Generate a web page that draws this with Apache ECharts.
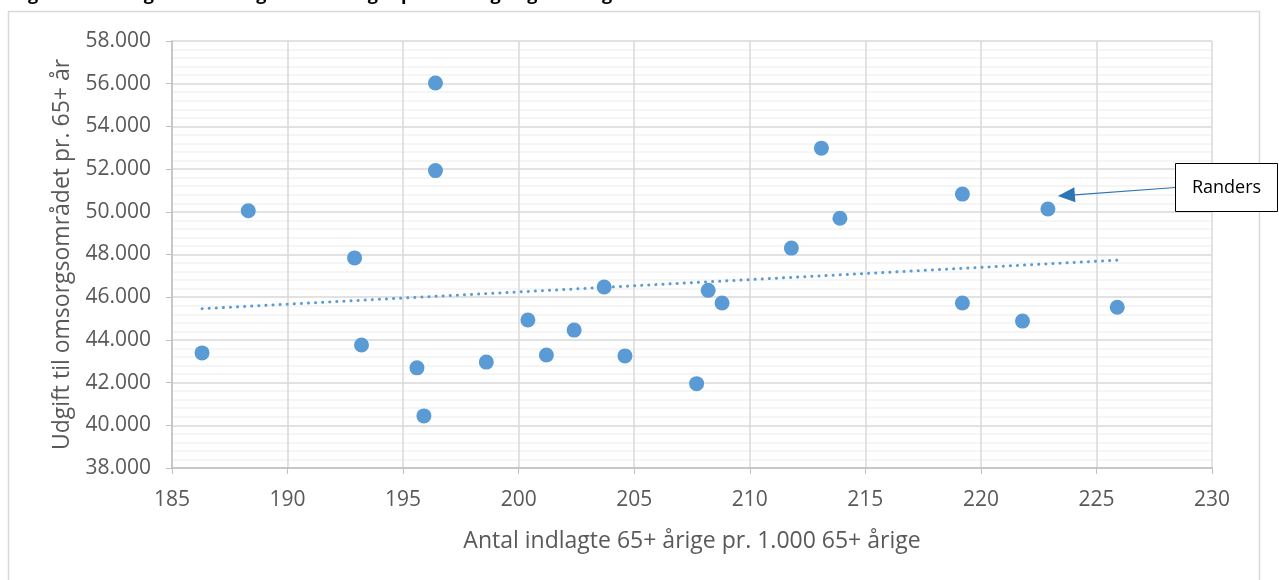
<!DOCTYPE html>
<html>
<head>
<meta charset="utf-8">
<script src="https://cdn.jsdelivr.net/npm/echarts@6/dist/echarts.min.js"></script>
<style>
  html, body { margin: 0; padding: 0; background: #fff; }
  #main { width: 1279px; height: 580px; }
</style>
</head>
<body>
<div id="main"></div>
<script>
// indlagte pr. 1.000 65+ årige
const indlagte = [186.3, 188.3, 192.9, 193.2, 195.6, 195.9, 196.4, 196.4, 198.6, 200.4, 201.2, 202.4,
    203.7, 204.6, 207.7, 208.2, 208.8, 211.8, 213.1, 213.9, 219.2, 219.2, 221.8, 222.9, 225.9]
// udgift pr. 65+ årig
const udgift = [43390, 50050, 47840, 43760, 42690, 40440, 56030, 51930, 42960, 44930, 43290, 44460,
    46480, 43250, 41950, 46320, 45730, 48300, 52980, 49700, 50830, 45730, 44880, 50130, 45530]
const xTicks = [185, 190, 195, 200, 205, 210, 215, 220, 225, 230]
const yTicks = [38000, 40000, 42000, 44000, 46000, 48000, 50000, 52000, 54000, 56000, 58000]
const randersIndex = 23
const randersLabel = 'Randers'

// lineær trendlinje (mindste kvadraters metode)
function trend(xs, ys) {
    const n = xs.length
    const mx = xs.reduce((a, b) => a + b, 0) / n
    const my = ys.reduce((a, b) => a + b, 0) / n
    let sxy = 0, sxx = 0
    for (let i = 0; i < n; i++) {
        sxy += (xs[i] - mx) * (ys[i] - my)
        sxx += (xs[i] - mx) * (xs[i] - mx)
    }
    const b = sxy / sxx
    const a = my - b * mx
    const x0 = Math.min(...xs), x1 = Math.max(...xs)
    return [[x0, a + b * x0], [x1, a + b * x1]]
}

const fmt = v => String(v).replace(/\B(?=(\d{3})+(?!\d))/g, '.')

const chart = echarts.init(document.getElementById('main'))
const gray = '#595959'
const frame = {
    type: 'rect',
    shape: { x: 8.5, y: 11.5, width: 1251, height: 600 },
    style: { fill: 'none', stroke: '#D9D9D9', lineWidth: 1.5 },
    silent: true,
    z: -1
}
const option = {
    animation: false,
    textStyle: { fontFamily: 'Open Sans' },
    title: {
        text: 'Udgift til omsorgsområdet og antal indlagte pr. 65+ årige og 65+ årige',
        left: -2,
        top: -19,
        textStyle: { fontSize: 18, fontWeight: 'bold', color: '#000' }
    },
    graphic: [frame],
    grid: { left: 172, right: 67, top: 41, bottom: 112 },
    xAxis: {
        type: 'value',
        min: xTicks[0],
        max: xTicks[xTicks.length - 1],
        interval: 5,
        name: 'Antal indlagte 65+ årige pr. 1.000 65+ årige',
        nameLocation: 'middle',
        nameGap: 62,
        nameTextStyle: { fontSize: 23, color: gray },
        axisLine: { show: true, lineStyle: { color: '#BFBFBF', width: 1.5 } },
        axisTick: { show: true, length: 6, lineStyle: { color: '#BFBFBF' } },
        axisLabel: { fontSize: 21, color: gray, margin: 22 },
        splitLine: { show: true, lineStyle: { color: '#D9D9D9', width: 1.5 } }
    },
    yAxis: {
        type: 'value',
        min: yTicks[0],
        max: yTicks[yTicks.length - 1],
        interval: 2000,
        name: 'Udgift til omsorgsområdet pr. 65+ år',
        nameLocation: 'middle',
        nameGap: 98,
        nameTextStyle: { fontSize: 23, color: gray },
        axisLine: { show: true, lineStyle: { color: '#BFBFBF', width: 1.5 } },
        axisTick: { show: true, length: 6, lineStyle: { color: '#BFBFBF' } },
        axisLabel: { fontSize: 21, color: gray, margin: 21, formatter: fmt },
        splitLine: { show: true, lineStyle: { color: '#D9D9D9', width: 1.5 } },
        minorTick: { show: false, splitNumber: 5 },
        minorSplitLine: { show: true, lineStyle: { color: '#F2F2F2', width: 1.5 } }
    },
    series: [
        {
            type: 'line',
            data: trend(indlagte, udgift),
            symbol: 'none',
            lineStyle: { color: '#5B9BD5', width: 3, type: [0.1, 7], cap: 'round' },
            z: 1
        },
        {
            type: 'scatter',
            data: indlagte.map((x, i) => [x, udgift[i]]),
            symbolSize: 15,
            itemStyle: { color: '#5B9BD5', opacity: 1 },
            z: 3
        }
    ]
}
chart.setOption(option)

// Randers-markering med pil
const p = chart.convertToPixel({ gridIndex: 0 }, [indlagte[randersIndex], udgift[randersIndex]])
const box = { x: 1175.5, y: 163.5, w: 102, h: 48 }
const tipX = p[0] + 10, tipY = p[1] - 13
const sx = box.x, sy = box.y + box.h / 2
const ang = Math.atan2(tipY - sy, tipX - sx)
const hl = 17, hw = 7.5
const bx = tipX - hl * Math.cos(ang), by = tipY - hl * Math.sin(ang)
chart.setOption({
    graphic: [frame,
        {
            type: 'line',
            shape: { x1: sx, y1: sy, x2: bx, y2: by },
            style: { stroke: '#2E75B6', lineWidth: 1.2 },
            silent: true,
            z: 100
        },
        {
            type: 'polygon',
            shape: {
                points: [
                    [tipX, tipY],
                    [bx + hw * Math.sin(ang), by - hw * Math.cos(ang)],
                    [bx - hw * Math.sin(ang), by + hw * Math.cos(ang)]
                ]
            },
            style: { fill: '#2E75B6' },
            silent: true,
            z: 100
        },
        {
            type: 'rect',
            shape: { x: box.x, y: box.y, width: box.w, height: box.h },
            style: { fill: '#fff', stroke: '#000', lineWidth: 1 },
            silent: true,
            z: 100
        },
        {
            type: 'text',
            x: box.x + box.w / 2,
            y: box.y + box.h / 2,
            style: { text: randersLabel, fontSize: 18, fill: '#000', align: 'center', verticalAlign: 'middle', fontFamily: 'Open Sans' },
            silent: true,
            z: 101
        }
    ]
})
</script>
</body>
</html>
